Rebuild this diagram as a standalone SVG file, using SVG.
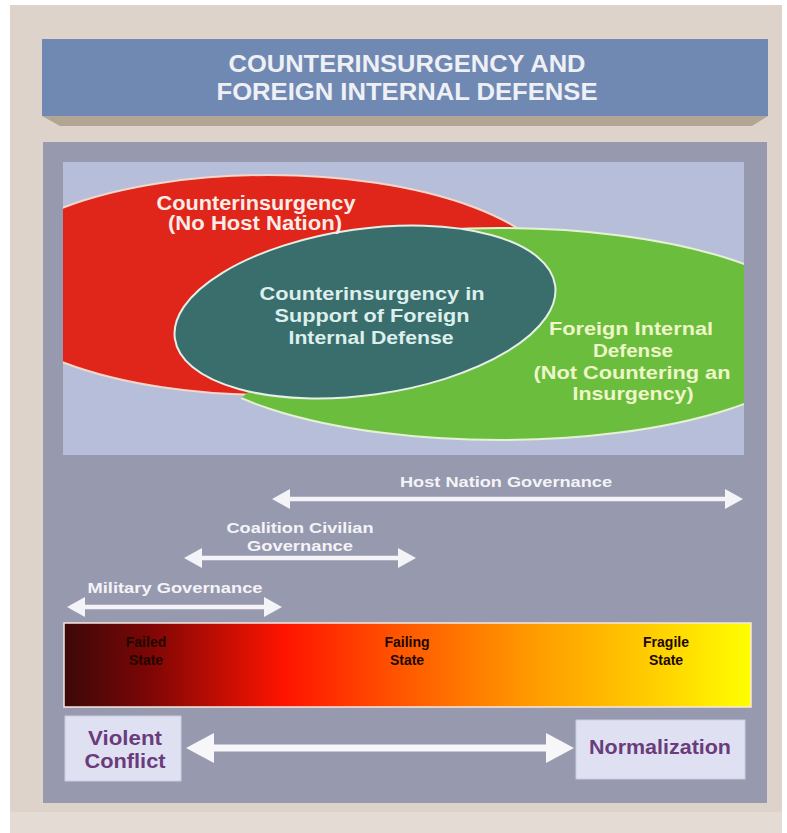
<svg xmlns="http://www.w3.org/2000/svg" width="787" height="833" viewBox="0 0 787 833">
<style>
text{font-family:"Liberation Sans",Arial,sans-serif;font-weight:bold;text-anchor:middle}
.title{font-size:23px;fill:#eef0f6}
.red{font-size:20px;fill:#fbece8}
.teal{font-size:19px;fill:#dcefec}
.green{font-size:19px;fill:#eef6c8}
.gov{font-size:15px;fill:#f4f4f8}
.state{font-size:14px;fill:#200800}
.end{font-size:21px;fill:#6a3c7c}
.box{fill:#dfe1f2;stroke:#c9cbe0;stroke-width:1}
.thin{stroke:#f4f4f8;stroke-width:4.5;fill:none}
.thick{stroke:#f7f7fa;stroke-width:7;fill:none}
</style>
<defs>
<linearGradient id="bar" x1="0" y1="0" x2="1" y2="0">
<stop offset="0" stop-color="#3c0808"/>
<stop offset="0.12" stop-color="#7a0606"/>
<stop offset="0.32" stop-color="#ff1400"/>
<stop offset="0.5" stop-color="#ff5a00"/>
<stop offset="0.68" stop-color="#ff9a00"/>
<stop offset="0.85" stop-color="#ffcc00"/>
<stop offset="1" stop-color="#ffff00"/>
</linearGradient>
<clipPath id="inner"><rect x="63" y="162" width="681" height="293"/></clipPath>
<clipPath id="greenclip"><path d="M222,470 L222,416 L248,392 L220,362 L202,325 L202,150 L800,150 L800,470 z"/></clipPath>
<marker id="hs" viewBox="0 -10 18 20" refX="0" refY="0" markerWidth="18" markerHeight="20" markerUnits="userSpaceOnUse" orient="auto-start-reverse">
<path d="M0,-10 L18,0 L0,10 z" fill="#f4f4f8"/>
</marker>
<marker id="hb" viewBox="0 -15 28 30" refX="0" refY="0" markerWidth="28" markerHeight="30" markerUnits="userSpaceOnUse" orient="auto-start-reverse">
<path d="M0,-15 L28,0 L0,15 z" fill="#f7f7fa"/>
</marker>
</defs>
<rect x="0" y="0" width="787" height="833" fill="#ffffff"/>
<rect x="10" y="5" width="772" height="828" fill="#ddd3ca"/>
<rect x="10" y="812" width="772" height="21" fill="#e3dbd4"/>

<g id="title">
<path d="M42,116 L768,116 L752,126 L60,126 z" fill="#b3a593"/>
<rect x="42" y="39" width="726" height="77" fill="#7089b3"/>
<text class="title" x="407" y="72" textLength="357" lengthAdjust="spacingAndGlyphs">COUNTERINSURGENCY AND</text>
<text class="title" x="407" y="100" textLength="381" lengthAdjust="spacingAndGlyphs">FOREIGN INTERNAL DEFENSE</text>
</g>

<rect x="43" y="142" width="724" height="661" fill="#9799ae"/>
<rect x="63" y="162" width="681" height="293" fill="#b7bed9"/>

<g id="venn" clip-path="url(#inner)">
<g id="coin">
<ellipse cx="269" cy="285" rx="290" ry="110" fill="#e0261a" stroke="#f4d6cc" stroke-width="2"/>
</g>
<g id="fid" clip-path="url(#greenclip)">
<ellipse cx="500" cy="334" rx="325" ry="106" fill="#6bbd3e" stroke="#e4f2d2" stroke-width="2"/>
</g>
<g id="coin-fid">
<ellipse cx="365" cy="312" rx="192" ry="83" transform="rotate(-8 365 312)" fill="#3a6e6c" stroke="#e6efe6" stroke-width="2"/>
</g>
</g>
<g id="venn-labels">
<text class="red" x="256" y="210" textLength="199" lengthAdjust="spacingAndGlyphs">Counterinsurgency</text>
<text class="red" x="255" y="230" textLength="174" lengthAdjust="spacingAndGlyphs">(No Host Nation)</text>
<text class="teal" x="372" y="300" textLength="225" lengthAdjust="spacingAndGlyphs">Counterinsurgency in</text>
<text class="teal" x="372" y="322" textLength="195" lengthAdjust="spacingAndGlyphs">Support of Foreign</text>
<text class="teal" x="371" y="344" textLength="165" lengthAdjust="spacingAndGlyphs">Internal Defense</text>
<text class="green" x="631" y="335" textLength="164" lengthAdjust="spacingAndGlyphs">Foreign Internal</text>
<text class="green" x="633" y="357" textLength="80" lengthAdjust="spacingAndGlyphs">Defense</text>
<text class="green" x="632" y="379" textLength="197" lengthAdjust="spacingAndGlyphs">(Not Countering an</text>
<text class="green" x="633" y="400" textLength="121" lengthAdjust="spacingAndGlyphs">Insurgency)</text>
</g>

<g id="connectors">
<line class="thin" x1="290" y1="499" x2="725" y2="499" marker-start="url(#hs)" marker-end="url(#hs)"/>
<line class="thin" x1="202" y1="558" x2="398" y2="558" marker-start="url(#hs)" marker-end="url(#hs)"/>
<line class="thin" x1="85" y1="607" x2="264" y2="607" marker-start="url(#hs)" marker-end="url(#hs)"/>
<line class="thick" x1="214" y1="748" x2="546" y2="748" marker-start="url(#hb)" marker-end="url(#hb)"/>
</g>

<g id="host-nation-governance">
<text class="gov" x="506" y="487" textLength="212" lengthAdjust="spacingAndGlyphs">Host Nation Governance</text>
</g>
<g id="coalition-civilian-governance">
<text class="gov" x="300" y="533" textLength="147" lengthAdjust="spacingAndGlyphs">Coalition Civilian</text>
<text class="gov" x="300" y="551" textLength="106" lengthAdjust="spacingAndGlyphs">Governance</text>
</g>
<g id="military-governance">
<text class="gov" x="175" y="593" textLength="175" lengthAdjust="spacingAndGlyphs">Military Governance</text>
</g>

<g id="state-bar">
<rect x="64" y="623" width="687" height="84" fill="url(#bar)" stroke="#f6e8e0" stroke-width="1.5"/>
<text class="state" x="146" y="647">Failed</text>
<text class="state" x="146" y="665">State</text>
<text class="state" x="407" y="647">Failing</text>
<text class="state" x="407" y="665">State</text>
<text class="state" x="666" y="647">Fragile</text>
<text class="state" x="666" y="665">State</text>
</g>

<g id="violent-conflict">
<rect class="box" x="65" y="716" width="116" height="65"/>
<text class="end" x="125" y="745" textLength="74" lengthAdjust="spacingAndGlyphs">Violent</text>
<text class="end" x="125" y="768" textLength="81" lengthAdjust="spacingAndGlyphs">Conflict</text>
</g>
<g id="normalization">
<rect class="box" x="576" y="720" width="169" height="59"/>
<text class="end" x="660" y="754" textLength="142" lengthAdjust="spacingAndGlyphs">Normalization</text>
</g>
</svg>
